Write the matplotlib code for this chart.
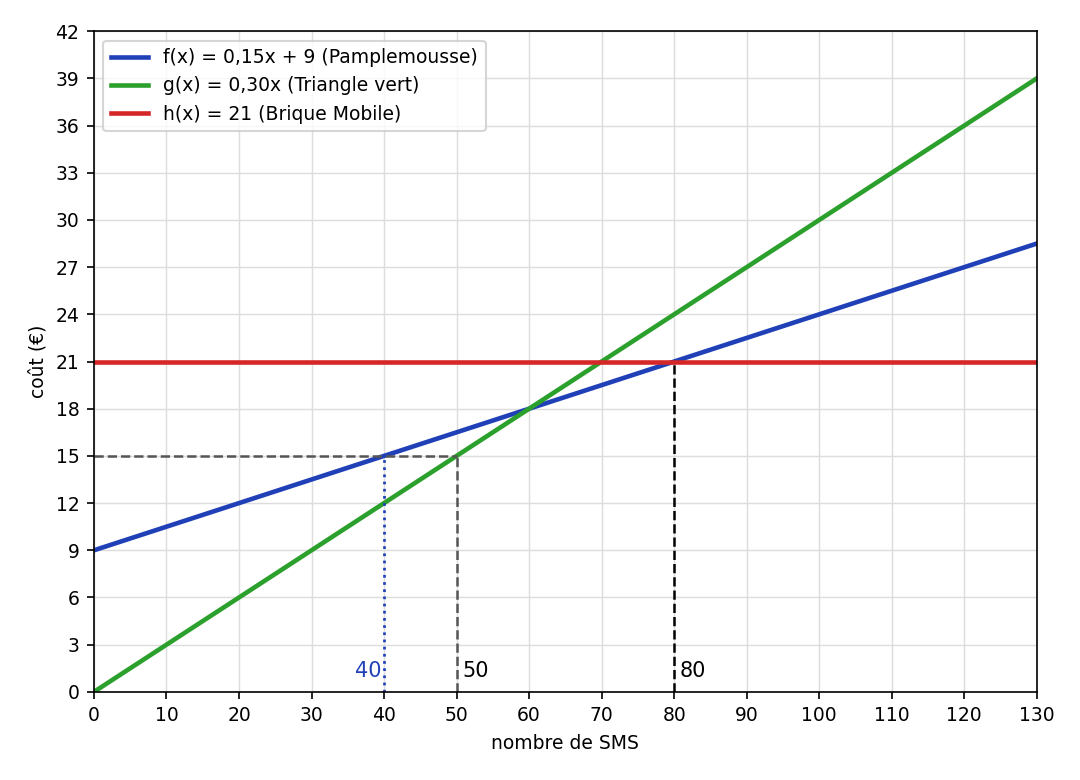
import numpy as np
import matplotlib
matplotlib.use('Agg')
import matplotlib.pyplot as plt

# tarifs SMS
x = np.array([0, 130])
f_vals = np.array([9, 28.5])    # f(x) = 0,15x + 9
g_vals = np.array([0, 39])      # g(x) = 0,30x
h_vals = np.array([21, 21])     # h(x) = 21

labels = ['f(x) = 0,15x + 9 (Pamplemousse)',
          'g(x) = 0,30x (Triangle vert)',
          'h(x) = 21 (Brique Mobile)']

x_f15, x_g15, x_fh = 40, 50, 80
y15, y21 = 15, 21

plt.rcParams['font.size'] = 9
fig, ax = plt.subplots(figsize=(7.2, 5.2), dpi=150)

ax.plot(x, f_vals, color='#2040b8', lw=2.2, label=labels[0])
ax.plot(x, g_vals, color='#2ca02c', lw=2.2, label=labels[1])
ax.plot(x, h_vals, color='#d62728', lw=2.2, label=labels[2])

ax.plot([0, x_g15], [y15, y15], color='#555555', ls='--', lw=1.2)
ax.plot([x_g15, x_g15], [0, y15], color='#555555', ls='--', lw=1.2)
ax.plot([x_f15, x_f15], [0, y15], color='#2040b8', ls=':', lw=1.3)
ax.plot([x_fh, x_fh], [0, y21], color='black', ls='--', lw=1.2)

ax.text(x_f15 - 0.4, 0.7, '40', color='#2040b8', ha='right', va='bottom', fontsize=10)
ax.text(x_g15 + 0.8, 0.7, '50', color='black', ha='left', va='bottom', fontsize=10)
ax.text(x_fh + 0.8, 0.7, '80', color='black', ha='left', va='bottom', fontsize=10)

ax.set_xlim(0, 130)
ax.set_ylim(0, 42)
ax.set_xticks(np.arange(0, 131, 10))
ax.set_yticks(np.arange(0, 43, 3))
ax.grid(True, color='#dddddd', lw=0.7)
ax.set_axisbelow(True)
ax.set_xlabel('nombre de SMS')
ax.set_ylabel('coût (€)')
ax.legend(loc='upper left')

fig.subplots_adjust(left=0.087, right=0.96, top=0.96, bottom=0.113)
fig.savefig('out.png')
